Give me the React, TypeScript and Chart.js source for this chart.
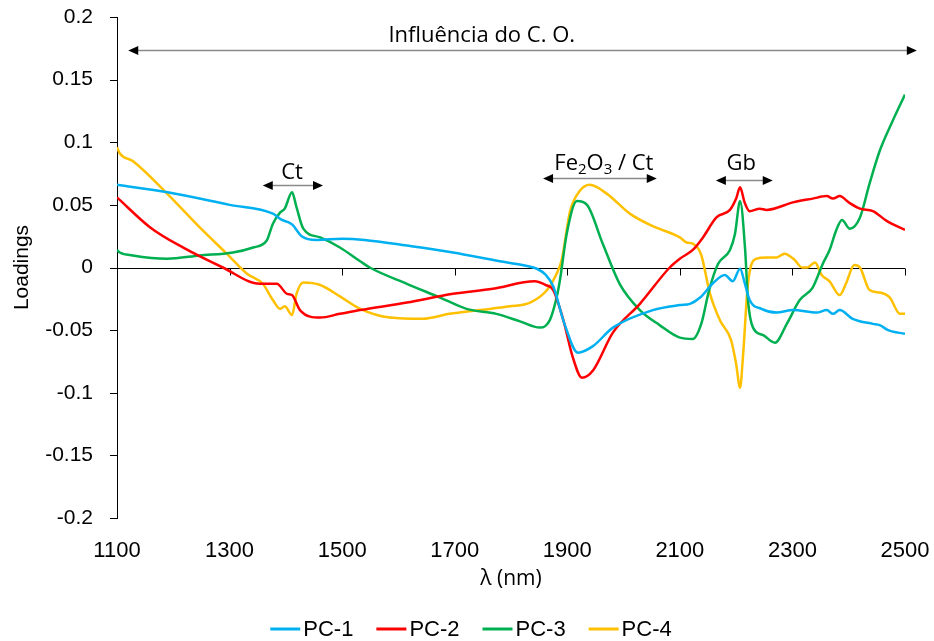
import React, { useEffect, useRef } from 'react';
import { Chart, registerables } from 'chart.js';

Chart.register(...registerables);

// ---- data (wavelength in nm, loading values) ----
const pc1Nm = [1100, 1190, 1300, 1377, 1393, 1405, 1412, 1428, 1455, 1500, 1540, 1615, 1697, 1780, 1820, 1846, 1862, 1875, 1895, 1919, 1945, 1981, 2052, 2100, 2118, 2136, 2160, 2180, 2194, 2207, 2215, 2224, 2245, 2272, 2301, 2343, 2361, 2372, 2384, 2407, 2443, 2455, 2470, 2500];
const pc1Val = [0.066, 0.060, 0.050, 0.043, 0.038, 0.036, 0.034, 0.025, 0.022, 0.023, 0.022, 0.0175, 0.012, 0.005, 0.002, -0.001, -0.006, -0.015, -0.045, -0.068, -0.063, -0.048, -0.034, -0.030, -0.029, -0.024, -0.012, -0.006, -0.011, -0.001, -0.012, -0.026, -0.033, -0.036, -0.034, -0.036, -0.034, -0.037, -0.034, -0.041, -0.045, -0.046, -0.050, -0.053];

const pc2Nm = [1100, 1159, 1217, 1288, 1354, 1384, 1402, 1411, 1425, 1461, 1496, 1532, 1615, 1697, 1768, 1842, 1862, 1875, 1893, 1910, 1926, 1946, 1981, 2029, 2082, 2100, 2123, 2141, 2165, 2189, 2200, 2207, 2215, 2224, 2242, 2254, 2301, 2336, 2361, 2372, 2384, 2400, 2420, 2443, 2468, 2500];
const pc2Val = [0.056, 0.032, 0.016, 0.0, -0.013, -0.013, -0.021, -0.022, -0.034, -0.040, -0.037, -0.034, -0.028, -0.021, -0.017, -0.011, -0.014, -0.018, -0.042, -0.072, -0.088, -0.082, -0.052, -0.029, 0.0, 0.007, 0.014, 0.024, 0.040, 0.046, 0.055, 0.064, 0.052, 0.045, 0.047, 0.046, 0.052, 0.055, 0.057, 0.055, 0.057, 0.052, 0.047, 0.045, 0.037, 0.030];

const pc3Nm = [1100, 1105, 1128, 1189, 1247, 1306, 1342, 1366, 1377, 1390, 1398, 1411, 1419, 1431, 1461, 1496, 1532, 1549, 1615, 1674, 1721, 1774, 1816, 1851, 1869, 1881, 1887, 1899, 1917, 1935, 1963, 1993, 2029, 2064, 2100, 2123, 2138, 2152, 2168, 2189, 2198, 2207, 2216, 2221, 2230, 2248, 2269, 2290, 2313, 2336, 2354, 2366, 2378, 2388, 2402, 2420, 2437, 2455, 2478, 2500];
const pc3Val = [0.014, 0.012, 0.0096, 0.007, 0.0096, 0.012, 0.016, 0.0215, 0.035, 0.044, 0.047, 0.060, 0.048, 0.031, 0.024, 0.016, 0.005, 0.0, -0.013, -0.024, -0.033, -0.037, -0.043, -0.048, -0.042, -0.024, -0.010, 0.027, 0.053, 0.050, 0.019, -0.013, -0.034, -0.046, -0.056, -0.057, -0.045, -0.018, 0.003, 0.014, 0.027, 0.053, 0.014, -0.026, -0.048, -0.054, -0.060, -0.045, -0.026, -0.016, 0.003, 0.014, 0.030, 0.038, 0.031, 0.040, 0.067, 0.093, 0.117, 0.138];

const pc4Nm = [1100, 1105, 1128, 1189, 1247, 1295, 1331, 1359, 1377, 1390, 1398, 1411, 1419, 1431, 1461, 1496, 1532, 1585, 1643, 1691, 1745, 1798, 1834, 1864, 1881, 1890, 1905, 1922, 1940, 1970, 2011, 2052, 2100, 2112, 2123, 2138, 2153, 2171, 2191, 2200, 2207, 2212, 2221, 2236, 2254, 2272, 2286, 2304, 2317, 2327, 2340, 2352, 2366, 2384, 2395, 2410, 2420, 2437, 2455, 2473, 2491, 2500];
const pc4Val = [0.096, 0.091, 0.085, 0.059, 0.032, 0.011, -0.005, -0.013, -0.026, -0.033, -0.031, -0.038, -0.021, -0.012, -0.014, -0.023, -0.033, -0.040, -0.041, -0.037, -0.034, -0.031, -0.028, -0.018, -0.005, 0.006, 0.045, 0.061, 0.066, 0.059, 0.043, 0.033, 0.024, 0.020, 0.019, 0.010, -0.020, -0.042, -0.058, -0.077, -0.096, -0.072, -0.013, 0.007, 0.008, 0.008, 0.011, 0.006, 0.0, 0.0, 0.004, -0.006, -0.011, -0.022, -0.013, 0.002, 0.0, -0.018, -0.020, -0.024, -0.037, -0.037];

const seriesNames = ['PC-1', 'PC-2', 'PC-3', 'PC-4'];
const seriesNm = [pc1Nm, pc2Nm, pc3Nm, pc4Nm];
const seriesVal = [pc1Val, pc2Val, pc3Val, pc4Val];
const seriesColors = ['#00B0F0', '#FF0000', '#00B050', '#FFC000'];

const xMin = 1100;
const xMax = 2500;
const xStep = 200;
const yMin = -0.2;
const yMax = 0.2;
const yStep = 0.05;
const xTitle = 'λ (nm)';
const yTitle = 'Loadings';

// annotations: double arrows (from nm, to nm, at value) and their labels (centre nm, value)
const arrowFrom = [1120, 1359, 1857, 2164];
const arrowTo = [2521, 1466, 2059, 2265];
const arrowAt = [0.1737, 0.0661, 0.0717, 0.0701];
const labelParts: [string, boolean][][] = [
  [['Influência do C. O.', false]],
  [['Ct', false]],
  [['Fe', false], ['2', true], ['O', false], ['3', true], [' / Ct', false]],
  [['Gb', false]],
];
const labelNm = [1748, 1411, 1965, 2209];
const labelAt = [0.1849, 0.0757, 0.0829, 0.0829];

const ARIAL = '"Liberation Sans", Arial, sans-serif';
const CALI = '"Open Sans", "Noto Sans", sans-serif';

const annotPlugin = {
  id: 'annot',
  beforeDatasetsDraw(chart: any) {
    const { ctx, chartArea, scales } = chart;
    const x = scales.x;
    const y = scales.y;
    const y0 = Math.round(y.getPixelForValue(0)) + 0.5;
    ctx.save();
    ctx.strokeStyle = '#000';
    ctx.lineWidth = 1;
    ctx.beginPath();
    ctx.moveTo(chartArea.left, y0);
    ctx.lineTo(chartArea.right, y0);
    x.ticks.forEach((t: any) => {
      const px = Math.round(x.getPixelForValue(t.value)) + 0.5;
      ctx.moveTo(px, y0);
      ctx.lineTo(px, y0 + 7);
    });
    // y axis tick marks (outside, to the left)
    y.ticks.forEach((t: any) => {
      const py = Math.round(y.getPixelForValue(t.value)) + 0.5;
      ctx.moveTo(chartArea.left - 7, py);
      ctx.lineTo(chartArea.left, py);
    });
    ctx.stroke();
    ctx.restore();
  },
  afterDatasetsDraw(chart: any) {
    const { ctx, scales } = chart;
    const x = scales.x;
    const y = scales.y;
    ctx.save();
    const head = 10;
    const half = 4.5;
    for (let i = 0; i < arrowFrom.length; i++) {
      const x1 = x.getPixelForValue(arrowFrom[i]);
      const x2 = x.getPixelForValue(arrowTo[i]);
      const py = Math.round(y.getPixelForValue(arrowAt[i])) + 0.5;
      ctx.strokeStyle = '#8a8a8a';
      ctx.lineWidth = 1.5;
      ctx.beginPath();
      ctx.moveTo(x1 + head - 1, py);
      ctx.lineTo(x2 - head + 1, py);
      ctx.stroke();
      ctx.fillStyle = '#000';
      ctx.beginPath();
      ctx.moveTo(x1, py);
      ctx.lineTo(x1 + head, py - half);
      ctx.lineTo(x1 + head, py + half);
      ctx.closePath();
      ctx.fill();
      ctx.beginPath();
      ctx.moveTo(x2, py);
      ctx.lineTo(x2 - head, py - half);
      ctx.lineTo(x2 - head, py + half);
      ctx.closePath();
      ctx.fill();
    }
    ctx.fillStyle = '#000';
    ctx.textBaseline = 'middle';
    ctx.textAlign = 'left';
    const mainFont = `22px ${CALI}`;
    const subFont = `15px ${CALI}`;
    for (let i = 0; i < labelParts.length; i++) {
      const parts = labelParts[i];
      let total = 0;
      parts.forEach(([s, sub]) => {
        ctx.font = sub ? subFont : mainFont;
        total += ctx.measureText(s).width;
      });
      let cx = x.getPixelForValue(labelNm[i]) - total / 2;
      const cy = y.getPixelForValue(labelAt[i]);
      parts.forEach(([s, sub]) => {
        ctx.font = sub ? subFont : mainFont;
        ctx.fillText(s, cx, sub ? cy + 6 : cy);
        cx += ctx.measureText(s).width;
      });
    }
    ctx.restore();
  },
  afterDraw(chart: any) {
    // legend: line sample + name, centred under the plot
    const { ctx } = chart;
    ctx.save();
    ctx.font = `22px ${ARIAL}`;
    ctx.textBaseline = 'middle';
    ctx.textAlign = 'left';
    const lineLen = 30;
    const gap = 3;
    const itemGap = 23;
    const widths = seriesNames.map((n) => ctx.measureText(n).width);
    const total = widths.reduce((a, w) => a + lineLen + gap + w, 0) + itemGap * (seriesNames.length - 1);
    let cx = 471 - total / 2;
    const cy = 629;
    seriesNames.forEach((n, i) => {
      ctx.strokeStyle = seriesColors[i];
      ctx.lineWidth = 3;
      ctx.beginPath();
      ctx.moveTo(cx, cy);
      ctx.lineTo(cx + lineLen, cy);
      ctx.stroke();
      ctx.fillStyle = '#000';
      ctx.fillText(n, cx + lineLen + gap, cy + 1);
      cx += lineLen + gap + widths[i] + itemGap;
    });
    ctx.restore();
  },
};

export default function App() {
  const canvasRef = useRef<HTMLCanvasElement | null>(null);

  useEffect(() => {
    const canvas = canvasRef.current;
    if (!canvas) return;
    const datasets = seriesNames.map((name, i) => ({
      label: name,
      data: seriesNm[i].map((nm, k) => ({ x: nm, y: seriesVal[i][k] })),
      borderColor: seriesColors[i],
      backgroundColor: seriesColors[i],
      borderWidth: 2.5,
      pointRadius: 0,
      cubicInterpolationMode: 'monotone' as const,
      fill: false,
    }));
    const chart = new Chart(canvas, {
      type: 'line',
      data: { datasets },
      plugins: [annotPlugin],
      options: {
        animation: false,
        responsive: false,
        devicePixelRatio: 1,
        layout: { padding: { left: 0, right: 29, top: 17, bottom: 39 } },
        plugins: {
          legend: { display: false },
          tooltip: { enabled: false },
        },
        scales: {
          x: {
            type: 'linear',
            min: xMin,
            max: xMax,
            grid: { display: false, drawTicks: true, tickLength: 20 },
            border: { display: false },
            ticks: {
              stepSize: xStep,
              color: '#000',
              font: { family: ARIAL, size: 22 },
              padding: 0,
              maxRotation: 0,
              callback: (v: any) => String(v),
            },
            title: {
              display: true,
              text: xTitle,
              color: '#000',
              font: { family: CALI, size: 21 },
              padding: { top: 0, bottom: 10 },
            },
            afterFit: (s: any) => {
              s.height = 84;
            },
          },
          y: {
            type: 'linear',
            min: yMin,
            max: yMax,
            grid: { display: false, drawTicks: true, tickLength: 24 },
            border: { display: true, color: '#000', width: 1 },
            ticks: {
              stepSize: yStep,
              color: '#000',
              font: { family: ARIAL, size: 21 },
              padding: 0,
              callback: (v: any) => String(Number(Number(v).toFixed(2))),
            },
            title: {
              display: true,
              text: yTitle,
              color: '#000',
              font: { family: ARIAL, size: 21 },
              padding: { top: 10, bottom: 0 },
            },
            afterFit: (s: any) => {
              s.width = 117;
            },
          },
        },
      },
    });
    return () => chart.destroy();
  }, []);

  return (
    <div style={{ position: 'absolute', left: 0, top: 0, width: 934, height: 641, background: '#fff' }}>
      <canvas ref={canvasRef} width={934} height={641} />
    </div>
  );
}
